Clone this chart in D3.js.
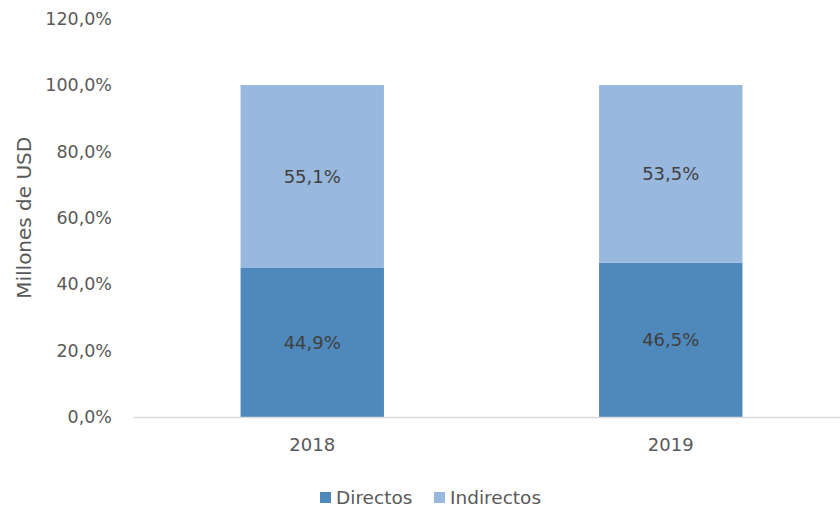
<!DOCTYPE html>
<html>
<head>
<meta charset="utf-8">
<script src="https://cdn.jsdelivr.net/npm/d3@7"></script>
<style>
  body { margin: 0; background: #fff; }
  svg text { font-family: "DejaVu Sans", "Noto Sans", sans-serif; }
</style>
</head>
<body>
<div class="vis"></div>
<script>
    const years = ["2018", "2019"];
    const directos = [44.9, 46.5];
    const indirectos = [55.1, 53.5];
    const yTicks = [0, 20, 40, 60, 80, 100, 120];
    const seriesNames = ["Directos", "Indirectos"];
    const seriesColors = ["#4f88bb", "#98b8de"];

    const dimensions = {
        width: 840,
        height: 510,
        margin: { left: 133, right: -10, top: 18.6, bottom: 93 },
    };

    const fmt = v => v.toFixed(1).replace(".", ",");

    const svg = d3.select(".vis").append("svg")
        .attr("width", dimensions.width)
        .attr("height", dimensions.height);

    const x = d3.scaleBand()
        .domain(years)
        .range([dimensions.margin.left, dimensions.width - dimensions.margin.right])
        .paddingInner(0.6)
        .paddingOuter(0.3);

    const y = d3.scaleLinear()
        .domain([0, 120])
        .range([dimensions.height - dimensions.margin.bottom, dimensions.margin.top]);

    // y axis labels
    const yAxis = svg.append("g")
        .attr("transform", `translate(${dimensions.margin.left - 18},0)`)
        .call(d3.axisLeft(y).tickValues(yTicks).tickSize(0).tickFormat(d => fmt(d) + "%"));
    yAxis.select(".domain").remove();
    yAxis.selectAll("text")
        .attr("fill", "#595959")
        .style("font-size", "17.5px");

    svg.append("text")
        .attr("transform", `translate(24,${y(60)}) rotate(-90)`)
        .attr("text-anchor", "middle")
        .attr("dy", "0.35em")
        .attr("fill", "#595959")
        .style("font-size", "20px")
        .text("Millones de USD");

    // stacked data
    const rows = years.map((yr, i) => ({ year: yr, Directos: directos[i], Indirectos: indirectos[i] }));
    const stack = d3.stack().keys(seriesNames)(rows);

    const layer = svg.selectAll(".layer")
        .data(stack)
        .enter().append("g")
        .attr("class", "layer")
        .attr("fill", (d, i) => seriesColors[i]);

    layer.selectAll("rect")
        .data(d => d)
        .enter().append("rect")
        .attr("x", d => x(d.data.year))
        .attr("width", x.bandwidth())
        .attr("y", d => y(d[1]))
        .attr("height", d => y(d[0]) - y(d[1]));

    layer.selectAll(".lbl")
        .data(d => d)
        .enter().append("text")
        .attr("class", "lbl")
        .attr("x", d => x(d.data.year) + x.bandwidth() / 2)
        .attr("y", d => y((d[0] + d[1]) / 2))
        .attr("dy", "0.35em")
        .attr("text-anchor", "middle")
        .attr("fill", "#404040")
        .style("font-size", "18px")
        .text(d => fmt(d[1] - d[0]) + "%");

    // x axis
    const xAxis = svg.append("g")
        .attr("transform", `translate(0,${y(0)})`)
        .call(d3.axisBottom(x).tickSize(0).tickPadding(21));
    xAxis.select(".domain").attr("stroke", "#d9d9d9").attr("stroke-width", 1.3);
    xAxis.selectAll("text")
        .attr("fill", "#595959")
        .style("font-size", "18px");

    // legend
    const legendX = [320, 434];
    const legend = svg.selectAll(".legend")
        .data(seriesNames)
        .enter().append("g")
        .attr("class", "legend")
        .attr("transform", (d, i) => `translate(${legendX[i]},492)`);
    legend.append("rect")
        .attr("width", 11)
        .attr("height", 11)
        .attr("fill", (d, i) => seriesColors[i]);
    legend.append("text")
        .attr("x", 16)
        .attr("y", 5.5)
        .attr("dy", "0.35em")
        .attr("fill", "#595959")
        .style("font-size", "18.5px")
        .text(d => d);
</script>
</body>
</html>
